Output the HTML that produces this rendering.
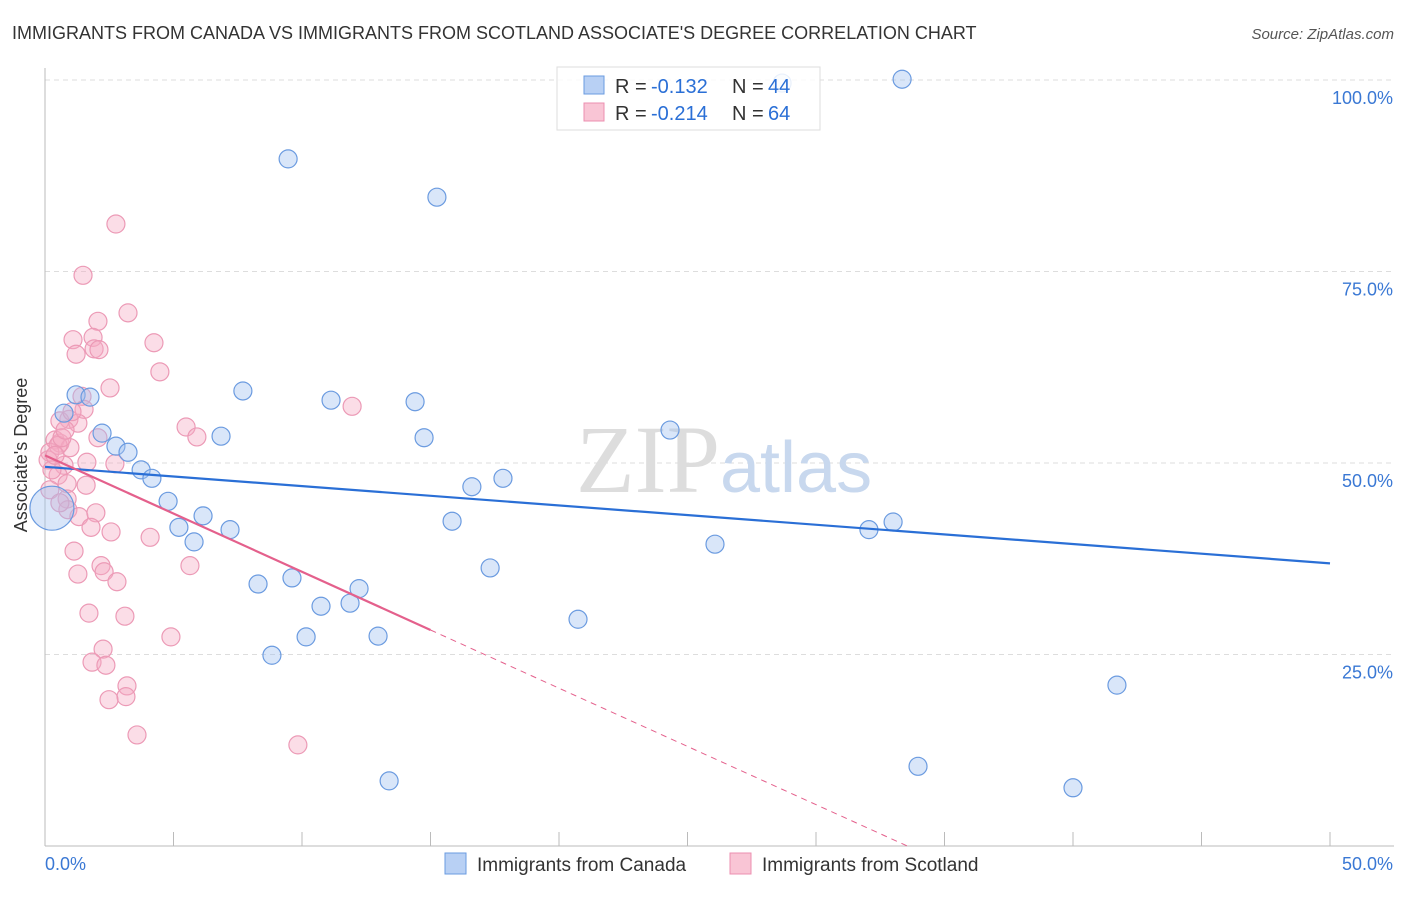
<!DOCTYPE html>
<html><head><meta charset="utf-8"><style>
body{margin:0;background:#fff;font-family:"Liberation Sans",sans-serif;}
</style></head><body>
<svg width="1406" height="892" xmlns="http://www.w3.org/2000/svg" style="font-family:'Liberation Sans',sans-serif">
<text x="12" y="39" font-size="18" fill="#333">IMMIGRANTS FROM CANADA VS IMMIGRANTS FROM SCOTLAND ASSOCIATE'S DEGREE CORRELATION CHART</text>
<text x="1394" y="39" font-size="15" fill="#555" font-style="italic" text-anchor="end">Source: ZipAtlas.com</text>
<g id="grid"></g>
<text x="720" y="492" font-size="96" fill="#ddd" font-family="Liberation Serif" text-anchor="end">ZIP</text>
<text x="720" y="492" font-size="72" fill="#c8d8ee">atlas</text>
<g id="pts"></g>
<g id="lines"></g>
<text x="27" y="455" font-size="18" fill="#333" transform="rotate(-90 27 455)" text-anchor="middle">Associate's Degree</text>
<g>
<rect x="557" y="67" width="263" height="63" fill="#fff" fill-opacity="0.85" stroke="#ddd"/>
<rect x="584" y="76" width="20" height="18" fill="#b8d0f4" stroke="#6a9be0"/>
<rect x="584" y="103" width="20" height="18" fill="#f9c5d5" stroke="#ec8fb0"/>
<text x="615" y="93" font-size="20" fill="#333">R =</text>
<text x="651" y="93" font-size="20" fill="#2a6fd6">-0.132</text>
<text x="732" y="93" font-size="20" fill="#333">N =</text>
<text x="768" y="93" font-size="20" fill="#2a6fd6">44</text>
<text x="615" y="120" font-size="20" fill="#333">R =</text>
<text x="651" y="120" font-size="20" fill="#2a6fd6">-0.214</text>
<text x="732" y="120" font-size="20" fill="#333">N =</text>
<text x="768" y="120" font-size="20" fill="#2a6fd6">64</text>
</g>
<g>
<rect x="445" y="853" width="21" height="21" fill="#b8d0f4" stroke="#6a9be0"/>
<text x="477" y="871" font-size="19" fill="#333">Immigrants from Canada</text>
<rect x="730" y="853" width="21" height="21" fill="#f9c5d5" stroke="#ec8fb0"/>
<text x="762" y="871" font-size="19" fill="#333">Immigrants from Scotland</text>
</g>
</svg>
<script>
const yTicks=[25,50,75,100];
const yTickLabels=["25.0%","50.0%","75.0%","100.0%"];
const xTickLabels=["0.0%","50.0%"];
const canadaX=[33.35,9.46,15.25,7.70,11.13,14.40,1.21,1.75,0.74,2.22,2.76,3.23,6.85,14.75,24.32,3.74,4.16,17.82,16.61,4.79,6.15,5.21,7.20,5.80,15.84,32.06,33.0,26.07,9.61,8.29,17.32,12.22,10.74,11.87,20.74,10.16,12.96,8.83,41.71,33.97,13.39,40.0,28.68,0.27];
const canadaY=[100.1,89.7,84.7,59.4,58.2,58.0,58.9,58.6,56.5,53.9,52.2,51.4,53.5,53.3,54.3,49.1,48.0,48.0,46.9,45.0,43.1,41.6,41.3,39.7,42.4,41.3,42.3,39.4,35.0,34.2,36.3,33.6,31.3,31.7,29.6,27.3,27.4,24.9,21.0,10.4,8.5,7.6,99.6,44.1];
const scotX=[2.76,1.48,3.23,2.06,1.09,1.87,4.24,1.21,1.91,2.10,4.47,2.53,1.44,0.93,0.58,1.52,1.28,11.95,5.49,5.91,2.06,0.39,0.58,0.19,0.97,0.51,0.66,0.12,1.63,2.72,0.74,0.51,0.86,0.19,0.86,0.89,1.32,4.09,1.98,1.79,2.57,1.13,1.28,2.18,2.30,2.80,5.64,1.71,3.11,4.90,2.26,1.83,2.37,3.19,3.15,2.49,3.58,9.84,0.27,0.78,0.58,0.39,1.60,1.05];
const scotY=[81.2,74.5,69.6,68.5,66.1,66.4,65.7,64.2,64.9,64.8,61.9,59.8,58.7,55.7,55.5,57.0,55.2,57.4,54.7,53.4,53.3,53.0,52.6,51.4,52.0,52.3,53.3,50.4,50.1,49.9,49.7,48.4,47.3,46.5,45.3,43.9,43.0,40.3,43.5,41.6,41.0,38.5,35.5,36.6,35.8,34.5,36.6,30.4,30.0,27.3,25.7,24.0,23.6,20.9,19.5,19.1,14.5,13.2,49.1,54.3,44.8,51.0,47.1,56.7];
const canadaTrend=[49.5,36.9];
const scotTrend=[51.0,-1.52];
const NS="http://www.w3.org/2000/svg";
const X=v=>45+v*25.7, Y=v=>846-v*7.66;
function mk(t,a,p){const e=document.createElementNS(NS,t);for(const k in a)e.setAttribute(k,a[k]);p.appendChild(e);return e;}
const grid=document.getElementById('grid');
yTicks.forEach((t,i)=>{
 const l=mk('line',{x1:45,x2:1394,y1:Y(t),y2:Y(t),stroke:'#ddd','stroke-dasharray':'5,4'},grid);
 
 
 const tx=mk('text',{x:1393,y:Y(t)+24,'font-size':18,fill:'#3a78d4','text-anchor':'end'},grid);
 tx.textContent=yTickLabels[i];
 
 
});
const ax=mk('line',{x1:45,x2:45,y1:68,y2:846,stroke:'#bbb'},grid);


const bx=mk('line',{x1:45,x2:1394,y1:846,y2:846,stroke:'#bbb'},grid);


for(let i=0;i<=10;i++){const t=mk('line',{x1:X(i*5),x2:X(i*5),y1:832,y2:846,stroke:'#bbb'},grid);
 
 }
[[0,'start'],[50,'end']].forEach((d,i)=>{const t=mk('text',{x:i?1393:45,y:870,'font-size':18,fill:'#3a78d4','text-anchor':d[1]},grid);t.textContent=xTickLabels[i];
 
 });
const pts=document.getElementById('pts');
scotX.forEach((x,i)=>{const c=mk('circle',{cx:X(x),cy:Y(scotY[i]),r:9,fill:'rgba(246,170,196,0.4)',stroke:'#ec9ab6','stroke-width':1.2},pts);
 
 });
canadaX.forEach((x,i)=>{const c=mk('circle',{cx:X(x),cy:Y(canadaY[i]),r:i==canadaX.length-1?22:9,fill:'rgba(160,192,240,0.4)',stroke:'#6b9be0','stroke-width':1.2},pts);
 
 });
const lines=document.getElementById('lines');
const bl=mk('line',{x1:X(0),y1:Y(canadaTrend[0]),x2:X(50),y2:Y(canadaTrend[1]),stroke:'#2a6fd6','stroke-width':2.2},lines);


const ps=mk('line',{x1:X(0),y1:Y(scotTrend[0]),x2:X(15),y2:Y(scotTrend[0]+scotTrend[1]*15),stroke:'#e4608c','stroke-width':2.2},lines);


const xe=-scotTrend[0]/scotTrend[1];
const pd=mk('line',{x1:X(15),y1:Y(scotTrend[0]+scotTrend[1]*15),x2:X(xe),y2:Y(0),stroke:'#e4608c','stroke-width':1,'stroke-dasharray':'6,5'},lines);


</script>
</body></html>
